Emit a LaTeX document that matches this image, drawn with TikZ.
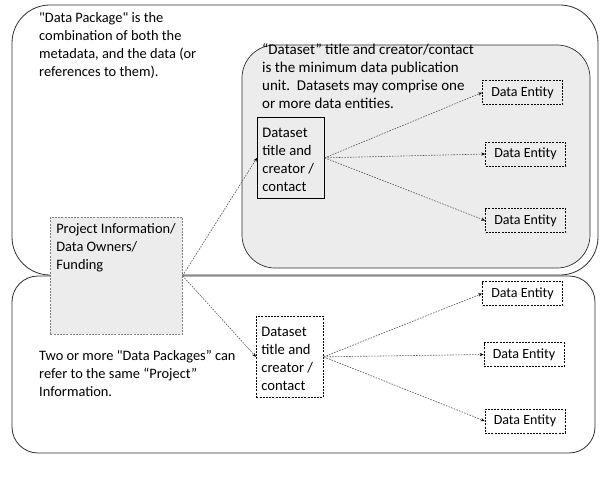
\documentclass[tikz,border=0pt]{standalone}
\usepackage{fontspec}
\setmainfont{Carlito}
\newfontfamily\qfont{Carlito}[Ligatures=TeXOff]
\usetikzlibrary{arrows.meta}
\newcommand{\sq}{{\qfont\symbol{34}}}
\definecolor{panelgray}{HTML}{ECECEC}
\definecolor{projgray}{HTML}{ECECEC}
\definecolor{rimgray}{HTML}{2E2E2E}
\definecolor{conngray}{HTML}{555555}
\begin{document}
\begin{tikzpicture}[x=1pt,y=-1pt,
  txt/.style={anchor=north west, inner sep=0pt, align=left, font=\fontsize{14.4}{18}\selectfont},
  container/.style={draw=rimgray, line width=0.8pt, fill=white},
  panel/.style={draw=rimgray, line width=0.7pt, fill=panelgray, rounded corners=33pt},
  dsbox/.style={draw=black, line width=0.7pt, anchor=north west, align=flush left,
    text width=57pt, inner xsep=5pt, inner ysep=0pt, minimum height=81pt,
    font=\fontsize{14.6}{18}\selectfont},
  dashbox/.style={dash pattern=on 2pt off 1.2pt},
  entity/.style={draw=black, line width=0.6pt, dash pattern=on 2pt off 1.2pt,
    minimum width=80pt, minimum height=24pt, inner sep=0pt,
    font=\fontsize{14}{16}\selectfont},
  proj/.style={draw=gray, line width=0.6pt, dash pattern=on 2pt off 1.2pt, fill=projgray,
    anchor=north west, inner xsep=2pt, inner ysep=4pt, font=\fontsize{14.4}{18}\selectfont},
  conn/.style={draw=conngray, line width=0.6pt, dash pattern=on 1.6pt off 1.2pt,
    -{Stealth[length=4pt,width=3.2pt,black]}}
]
\useasboundingbox (0,0) rectangle (609,476);
\fill[white] (0,0) rectangle (609,476);

% containers
\draw[container, rounded corners=26pt] (12,276) rectangle (595,453);
\draw[container, rounded corners=38pt] (12,5) rectangle (598,275);
\draw[panel] (242,45) rectangle (590,268);

% texts
\node[txt] (t1) at (39,10) {\strut\sq Data Package\sq\ is the\\combination of both the\\metadata, and the data (or\\references to them).};
\node[txt, font=\fontsize{15}{18}\selectfont] (t2) at (262,42) {\strut“Dataset” title and creator/contact\\is the minimum data publication\\unit.~~Datasets may comprise one\\or more data entities.};
\node[txt] (t3) at (39,348) {\strut Two or more \sq Data Packages” can\\refer to the same “Project”\\Information.};

% project box
\node[proj] (proj) at (50,217) {\parbox[t][109pt][t]{128pt}{\raggedright\leftskip=4pt\strut Project Information/\\Data Owners/\\Funding}};

% dataset boxes
\node[dsbox] (ds1) at (257,117) {\strut Dataset\\title and\\creator /\\contact};
\node[dsbox, dashbox, fill=white] (ds2) at (256,316) {\strut Dataset\\title and\\creator /\\contact};

% entities
\node[entity] (e11) at (522.5,92.5) {Data Entity};
\node[entity] (e12) at (525.5,154) {Data Entity};
\node[entity] (e13) at (525.5,220.5) {Data Entity};
\node[entity] (e21) at (522.5,293.5) {Data Entity};
\node[entity] (e22) at (524,354.5) {Data Entity};
\node[entity] (e23) at (525,421) {Data Entity};

% connectors
\draw[conn] (proj.east) -- (ds1.west);
\draw[conn] (proj.east) -- (ds2.west);
\draw[conn] (ds1.east) -- (e11.west);
\draw[conn] (ds1.east) -- (e12.west);
\draw[conn] (ds1.east) -- (e13.west);
\draw[conn] (ds2.east) -- (e21.west);
\draw[conn] (ds2.east) -- (e22.west);
\draw[conn] (ds2.east) -- (e23.west);
\end{tikzpicture}
\end{document}
